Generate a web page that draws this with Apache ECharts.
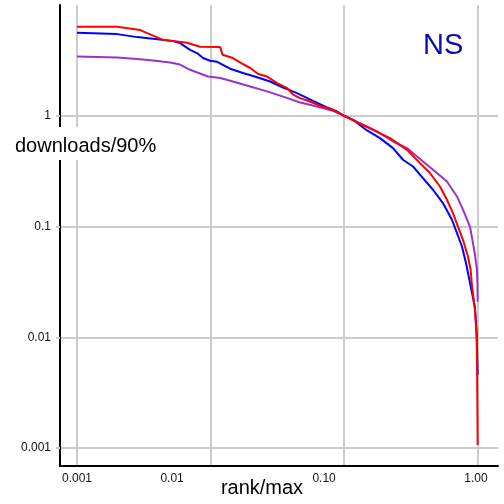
<!DOCTYPE html>
<html><head><meta charset="utf-8">
<script src="https://cdn.jsdelivr.net/npm/echarts@6/dist/echarts.min.js"></script>
<style>html,body{margin:0;padding:0;background:#fff}#c{width:504px;height:504px}</style>
</head><body><div id="c"></div>
<script>
// ---- data (rank/max, downloads normalised at rank 0.10) ----
const redRank = [0.001,0.002,0.00297,0.00441,0.00667,0.00834,0.0118,0.0123,0.0147,0.0166,0.0198,0.0227,0.0265,0.0315,0.0374,0.0415,0.0468,0.0556,0.066,0.0826,0.1,0.1315,0.1646,0.2206,0.2956,0.370,0.4395,0.522,0.589,0.653,0.712,0.776,0.846,0.886,0.902,0.9545,0.983,0.993,1.0];
const redValue = [6.36,6.36,5.94,4.85,4.56,4.20,4.17,3.55,3.32,3.03,2.70,2.38,2.26,1.97,1.78,1.55,1.445,1.346,1.231,1.133,1.0,0.847,0.747,0.629,0.493,0.374,0.304,0.230,0.1746,0.1324,0.100,0.076,0.0537,0.0408,0.0311,0.0177,0.0101,0.00337,0.00107];

const blueRank = [0.001,0.002,0.00282,0.00371,0.00524,0.00591,0.00702,0.00792,0.00879,0.00992,0.0112,0.014,0.0175,0.0223,0.0279,0.0349,0.0444,0.0585,0.0745,0.0885,0.1,0.1166,0.1484,0.1856,0.2323,0.276,0.328,0.3896,0.4628,0.5498,0.642,0.70,0.763,0.817,0.876,0.9545,0.983,0.993,1.0];
const blueValue = [5.61,5.46,5.13,4.95,4.72,4.53,3.94,3.68,3.32,3.14,3.07,2.66,2.43,2.23,2.04,1.80,1.60,1.366,1.188,1.093,1.0,0.92,0.737,0.629,0.511,0.401,0.3486,0.274,0.215,0.163,0.1152,0.0874,0.0661,0.0471,0.0311,0.0185,0.011,0.0065,0.0046];

const purpleRank = [0.001,0.002,0.00282,0.00371,0.00497,0.00591,0.00702,0.00834,0.00958,0.0118,0.0147,0.0198,0.0265,0.0349,0.0468,0.0627,0.0826,0.1,0.1315,0.1763,0.2323,0.2956,0.3896,0.4957,0.589,0.70,0.776,0.876,0.922,0.9545,0.988,0.9966,1.0];
const purpleValue = [3.43,3.36,3.25,3.16,3.03,2.90,2.60,2.41,2.26,2.19,2.04,1.84,1.66,1.49,1.318,1.213,1.11,1.0,0.859,0.722,0.586,0.511,0.387,0.304,0.255,0.187,0.142,0.100,0.071,0.0557,0.0408,0.0298,0.0210];

const yTickValues = [0.001,0.01,0.1,1];
const yTickLabels = ['0.001','0.01','0.1','1'];
const xGridValues = [0.001,0.01,0.1,1];
const xTickLabels = ['0.001','0.01','0.10','1.00'];
const xTickLabelAt = [0.001,0.00515,0.0708,0.971];
const xExtent = [0.000746,1.42];
const yExtent = [0.00069,10];

const lg = Math.log10;
function pairs(r, v){ return r.map((x,i)=>[lg(x), lg(v[i])]); }
function pick(vals, labels, v){
  for (let i=0;i<vals.length;i++){ if (Math.abs(lg(vals[i])-v) < 1e-6) return labels[i]; }
  return '';
}
const FONT = '"Liberation Sans", Arial, Helvetica, sans-serif';

const chart = echarts.init(document.getElementById('c'), null, {renderer:'canvas'});
chart.setOption({
  animation: false,
  backgroundColor: '#fff',
  grid: {left:60, right:6, top:5, bottom:38},
  xAxis: {
    type:'value', min: lg(xExtent[0]), max: lg(xExtent[1]),
    axisLine: {show:true, onZero:false, lineStyle:{color:'#000', width:2}},
    axisTick: {show:false, customValues: xGridValues.map(lg)},
    splitLine: {show:true, lineStyle:{color:'#cccccc', width:2}},
    axisLabel: {customValues: xTickLabelAt.map(lg), formatter: v => pick(xTickLabelAt, xTickLabels, v),
      fontSize:12, color:'#111', margin:7, fontFamily: FONT}
  },
  yAxis: {
    type:'value', min: lg(yExtent[0]), max: lg(yExtent[1]),
    axisLine: {show:true, onZero:false, lineStyle:{color:'#000', width:2}},
    axisTick: {show:true, length:4, lineStyle:{color:'#cccccc', width:2}, customValues: yTickValues.map(lg)},
    splitLine: {show:true, lineStyle:{color:'#cccccc', width:2}},
    axisLabel: {customValues: yTickValues.map(lg), formatter: v => pick(yTickValues, yTickLabels, v),
      fontSize:12, color:'#111', margin:9, fontFamily: FONT}
  },
  series: [
    {type:'line', name:'purple', data: pairs(purpleRank, purpleValue), showSymbol:false, lineStyle:{color:'#9933cc', width:2}, itemStyle:{color:'#9933cc'}},
    {type:'line', name:'blue', data: pairs(blueRank, blueValue), showSymbol:false, lineStyle:{color:'#0000ff', width:2}, itemStyle:{color:'#0000ff'}},
    {type:'line', name:'red', data: pairs(redRank, redValue), showSymbol:false, lineStyle:{color:'#ff0000', width:2}, itemStyle:{color:'#ff0000'}}
  ],
  graphic: [
    {type:'rect', z:100, shape:{x:12, y:127, width:150, height:33}, style:{fill:'#fff'}},
    {type:'text', z:101, x:15, y:146, style:{text:'downloads/90%', font:'20px '+FONT, fill:'#000', align:'left', verticalAlign:'middle'}},
    {type:'text', z:101, x:262, y:488, style:{text:'rank/max', font:'20px '+FONT, fill:'#000', align:'center', verticalAlign:'middle'}},
    {type:'text', z:101, x:423, y:46, style:{text:'NS', font:'29px '+FONT, fill:'#0a0ab4', align:'left', verticalAlign:'middle'}}
  ]
});
</script>
</body></html>
